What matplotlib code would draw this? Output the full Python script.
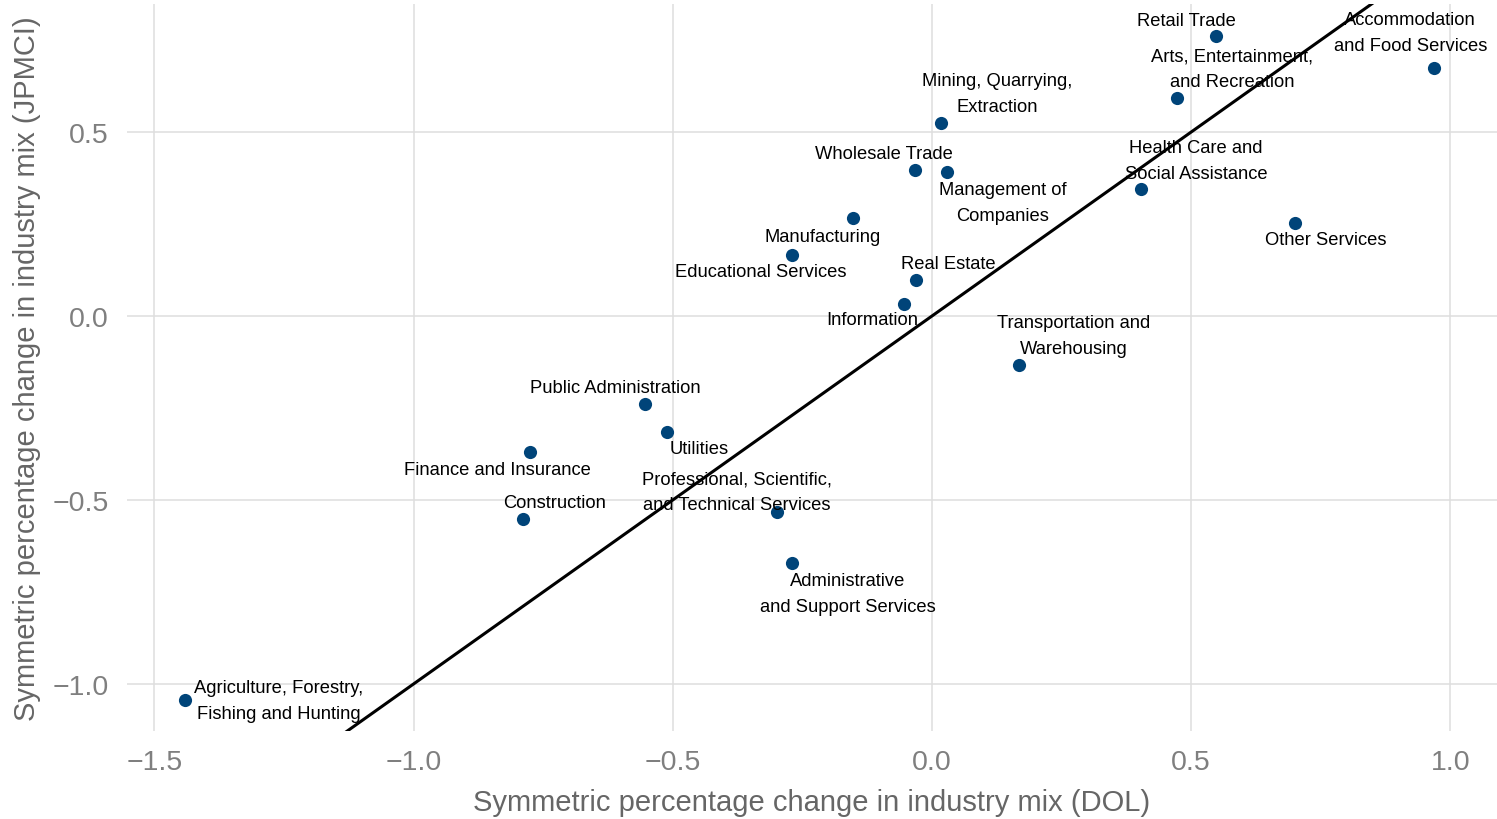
import numpy as np
import matplotlib
matplotlib.use('Agg')
import matplotlib.pyplot as plt

plt.rcParams['font.family'] = ['Liberation Sans', 'DejaVu Sans']

# industry mix changes: DOL (x) vs JPMCI (y)
industries = ['Agriculture, Forestry,\nFishing and Hunting', 'Construction', 'Finance and Insurance',
              'Public Administration', 'Utilities', 'Professional, Scientific,\nand Technical Services',
              'Administrative\nand Support Services', 'Educational Services', 'Manufacturing',
              'Information', 'Real Estate', 'Wholesale Trade', 'Management of\nCompanies',
              'Mining, Quarrying,\nExtraction', 'Transportation and\nWarehousing',
              'Health Care and\nSocial Assistance', 'Arts, Entertainment,\nand Recreation',
              'Retail Trade', 'Other Services', 'Accommodation\nand Food Services']
dol = [-1.441, -0.789, -0.776, -0.554, -0.511, -0.299, -0.270, -0.270, -0.152, -0.054,
       -0.031, -0.033, 0.029, 0.017, 0.168, 0.403, 0.473, 0.548, 0.700, 0.969]
jpmci = [-1.043, -0.552, -0.370, -0.239, -0.315, -0.533, -0.671, 0.166, 0.266, 0.033,
         0.098, 0.397, 0.391, 0.524, -0.133, 0.345, 0.592, 0.761, 0.253, 0.674]

xticks = [-1.5, -1.0, -0.5, 0.0, 0.5, 1.0]
yticks = [-1.0, -0.5, 0.0, 0.5]

# label offsets in pixels (dx right, dy up), like ggrepel placed them
offsets_px = [(94, -1), (32, 17), (-32, -17), (-30, 16), (32, -17), (-40, 20.5),
              (56, -30.5), (-31, -17), (-31, -18), (-32, -16), (32, 16), (-31, 16),
              (56, -30.5), (56, 29.5), (55, 29.5), (55, 28.5), (55, 29.5),
              (-30, 16), (31, -17), (-24, 35.5)]

fig = plt.figure(figsize=(14.97, 8.2), dpi=100)
ax = fig.add_axes([127/1497, 88/820, 1 - 127/1497, (732-5)/820])

xmin, xmax = -1.553, 1.090
ymin, ymax = -1.128, 0.848
ax.set_xlim(xmin, xmax)
ax.set_ylim(ymin, ymax)

# 45 degree line
ax.plot([xmin, xmax], [xmin, xmax], color='black', lw=2.2, zorder=2)
ax.scatter(dol, jpmci, s=90, color='#004479', zorder=3, linewidths=0)

for name, x, y, (dx, dy) in zip(industries, dol, jpmci, offsets_px):
    ax.annotate(name, (x, y), xytext=(dx*0.72, dy*0.72), textcoords='offset points',
                ha='center', va='center', fontsize=13.2, linespacing=1.68, color='black', zorder=4)

ax.set_xticks(xticks)
ax.set_yticks(yticks)
ax.grid(True, color='#dedede', lw=1.1)
ax.set_axisbelow(True)
for s in ax.spines.values():
    s.set_visible(False)
ax.tick_params(length=0, labelsize=20.5, colors='#7f7f7f')
ax.tick_params(axis='x', pad=13)
ax.tick_params(axis='y', pad=13)
ax.set_xlabel('Symmetric percentage change in industry mix (DOL)', fontsize=21, color='#666666', labelpad=9)
ax.set_ylabel('Symmetric percentage change in industry mix (JPMCI)', fontsize=21, color='#666666', labelpad=8)

plt.savefig('out.png', dpi=100)
